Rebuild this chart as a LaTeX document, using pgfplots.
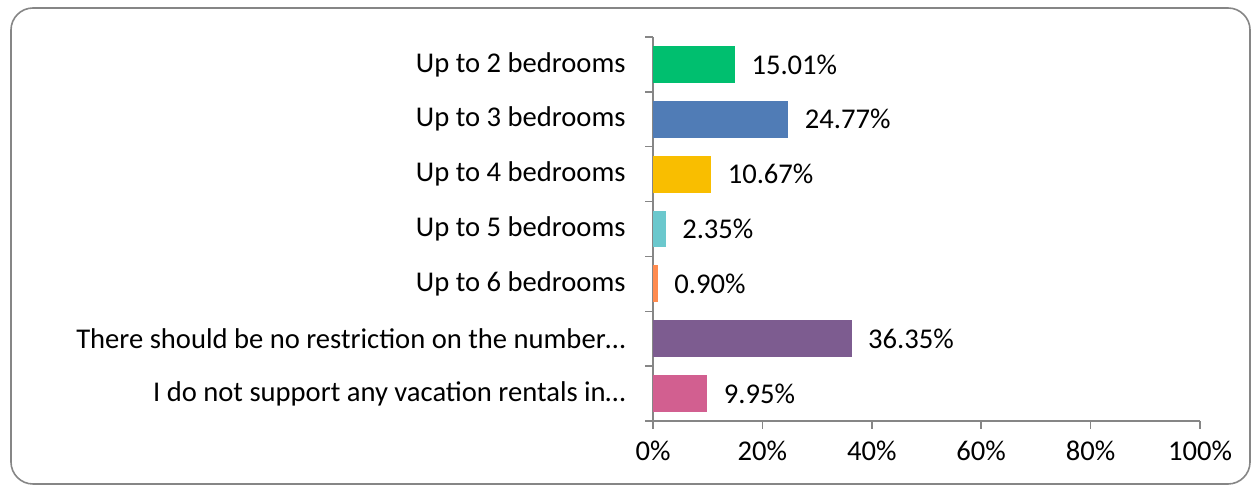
\documentclass[border=0pt]{standalone}
\usepackage{fontspec}
\setmainfont{Carlito}
\usepackage{pgfplots}
\pgfplotsset{compat=1.18}
\definecolor{cgreen}{HTML}{00BF6F}
\definecolor{cblue}{HTML}{507CB6}
\definecolor{cyellow}{HTML}{F9BE00}
\definecolor{cteal}{HTML}{6BC8CD}
\definecolor{corange}{HTML}{FF8B4F}
\definecolor{cpurple}{HTML}{7D5C90}
\definecolor{cpink}{HTML}{D25F90}
\definecolor{axgray}{HTML}{868686}
\begin{document}
\begin{tikzpicture}[font=\fontsize{14.3}{17}\selectfont]
\path (0,0) rectangle (628pt,242.5pt);
\draw[axgray, line width=0.8pt, rounded corners=11pt] (5.5pt,0.5pt) rectangle (625pt,238.5pt);
\begin{axis}[
  at={(326.5pt,32pt)}, anchor=south west,
  scale only axis, width=273.5pt, height=192pt,
  xmin=0, xmax=100, ymin=-0.5, ymax=6.5,
  xbar, bar width=0.67, bar shift=0pt,
  axis x line*=bottom, axis y line*=left,
  axis line style={axgray, line width=0.75pt},
  tick style={axgray, line width=0.75pt},
  tick align=outside, major tick length=4pt,
  xtick={0,20,...,100},
  xticklabels={0\%,20\%,40\%,60\%,80\%,100\%},
  xticklabel style={inner sep=0pt, yshift=-6pt},
  ytick={-0.5,0.5,...,6.5}, yticklabels={},
  extra y ticks={0,1,2,3,4,5,6},
  extra y tick labels={I do not support any vacation rentals in…,There should be no restriction on the number…,Up to 6 bedrooms,Up to 5 bedrooms,Up to 4 bedrooms,Up to 3 bedrooms,Up to 2 bedrooms},
  extra y tick style={major tick length=0pt, yticklabel style={inner sep=0pt, xshift=-13.5pt}},
  point meta=x,
  nodes near coords={\pgfmathprintnumber[fixed,fixed zerofill,precision=2,assume math mode=true]{\pgfplotspointmeta}\%},
  nodes near coords style={anchor=west, inner sep=0pt, xshift=8pt, black},
  every axis plot/.append style={draw=none},
]
\addplot[fill=cgreen] coordinates {(15.01,6)};
\addplot[fill=cblue] coordinates {(24.77,5)};
\addplot[fill=cyellow] coordinates {(10.67,4)};
\addplot[fill=cteal] coordinates {(2.35,3)};
\addplot[fill=corange] coordinates {(0.90,2)};
\addplot[fill=cpurple] coordinates {(36.35,1)};
\addplot[fill=cpink] coordinates {(9.95,0)};
\end{axis}
\end{tikzpicture}
\end{document}
